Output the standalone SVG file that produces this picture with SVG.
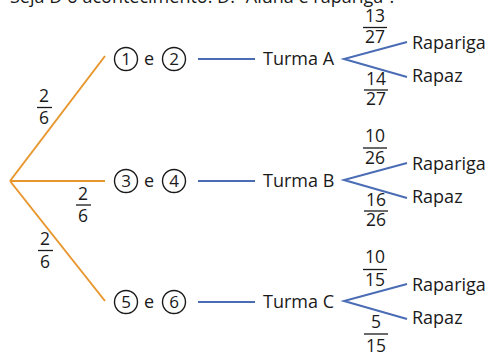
<svg xmlns="http://www.w3.org/2000/svg" width="490" height="352" viewBox="0 0 490 352">
<style>
text{font-family:"Open Sans","Liberation Sans",sans-serif;fill:#1a1a1a}
.lbl{font-size:18px}
.fr{font-size:17.5px;text-anchor:middle}
.bar{stroke:#1a1a1a;stroke-width:1.3}
.or{stroke:#E8972F;stroke-width:2;fill:none}
.bl{stroke:#4A6CB5;stroke-width:2;fill:none}
.c{fill:none;stroke:#1a1a1a;stroke-width:1.4}
.cn{font-size:17px;text-anchor:middle}
</style>
<rect width="490" height="352" fill="#fff"/>
<text class="lbl" x="10" y="3">Seja D o acontecimento: D: “Aluna é rapariga”.</text>
<g id="connectors">
<path class="or" d="M10,181 L105,56 M10,181 L105,181 M10,181 L105,301"/>
<path class="bl" d="M198,59 H255 M198,181 H255 M198,302 H255"/>
<path class="bl" d="M407,42 L344,59 L407,77"/>
<path class="bl" d="M407,163 L344,180 L407,198"/>
<path class="bl" d="M407,284 L344,301 L407,319"/>
</g>
<g id="p-left">
<text class="fr" x="44" y="102">2</text><line class="bar" x1="37" y1="107.5" x2="52" y2="107.5"/><text class="fr" x="44" y="124">6</text>
<text class="fr" x="83" y="200">2</text><line class="bar" x1="76" y1="205" x2="91" y2="205"/><text class="fr" x="83" y="222">6</text>
<text class="fr" x="45" y="245">2</text><line class="bar" x1="38" y1="250.5" x2="53" y2="250.5"/><text class="fr" x="45" y="268">6</text>
</g>
<g id="node-12">
<circle class="c" cx="126" cy="59" r="11.5"/><text class="cn" x="126" y="65">1</text>
<text class="lbl" x="144" y="65">e</text>
<circle class="c" cx="174" cy="59" r="11.5"/><text class="cn" x="174" y="65">2</text>
</g>
<g id="node-34">
<circle class="c" cx="126" cy="181" r="11.5"/><text class="cn" x="126" y="187">3</text>
<text class="lbl" x="144" y="187">e</text>
<circle class="c" cx="174" cy="181" r="11.5"/><text class="cn" x="174" y="187">4</text>
</g>
<g id="node-56">
<circle class="c" cx="126" cy="302" r="11.5"/><text class="cn" x="126" y="308">5</text>
<text class="lbl" x="144" y="308">e</text>
<circle class="c" cx="174" cy="302" r="11.5"/><text class="cn" x="174" y="308">6</text>
</g>
<g id="turma-a"><text class="lbl" x="263" y="65">Turma A</text></g>
<g id="turma-b"><text class="lbl" x="263" y="187">Turma B</text></g>
<g id="turma-c"><text class="lbl" x="263" y="308">Turma C</text></g>
<g id="a-rapariga"><text class="lbl" x="412" y="49">Rapariga</text></g>
<g id="a-rapaz"><text class="lbl" x="412" y="82">Rapaz</text></g>
<g id="b-rapariga"><text class="lbl" x="412" y="170">Rapariga</text></g>
<g id="b-rapaz"><text class="lbl" x="412" y="203">Rapaz</text></g>
<g id="c-rapariga"><text class="lbl" x="412" y="291">Rapariga</text></g>
<g id="c-rapaz"><text class="lbl" x="412" y="324">Rapaz</text></g>
<g id="p-right">
<text class="fr" x="375" y="22">13</text><line class="bar" x1="363" y1="27.5" x2="387" y2="27.5"/><text class="fr" x="375" y="43">27</text>
<text class="fr" x="376" y="85">14</text><line class="bar" x1="364" y1="90" x2="388" y2="90"/><text class="fr" x="376" y="105">27</text>
<text class="fr" x="375" y="142">10</text><line class="bar" x1="363" y1="148" x2="387" y2="148"/><text class="fr" x="375" y="164">26</text>
<text class="fr" x="376" y="206">16</text><line class="bar" x1="364" y1="211" x2="388" y2="211"/><text class="fr" x="376" y="226">26</text>
<text class="fr" x="375" y="263">10</text><line class="bar" x1="363" y1="269.5" x2="387" y2="269.5"/><text class="fr" x="375" y="286">15</text>
<text class="fr" x="376" y="328">5</text><line class="bar" x1="364" y1="334" x2="388" y2="334"/><text class="fr" x="376" y="352">15</text>
</g>
</svg>
